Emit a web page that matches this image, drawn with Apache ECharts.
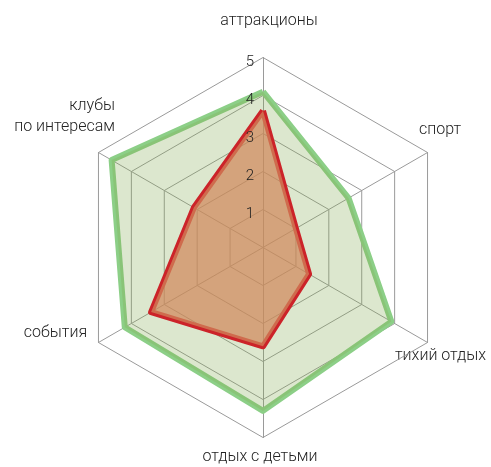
<!doctype html>
<html>
<head>
<meta charset="UTF-8">
<script src="https://cdn.jsdelivr.net/npm/echarts@6/dist/echarts.min.js"></script>
<style>html,body{margin:0;padding:0;background:#fff;}</style>
</head>
<body>
<div id="chart" style="width: 491px; height: 467px;"></div>
<script>
// indicators go counterclockwise from the top
var names = ['аттракционы', 'клубы\nпо интересам', 'события', 'отдых с детьми', 'тихий отдых', 'спорт'];
var greenValues = [4.1, 4.6, 4.2, 4.3, 3.9, 2.6];
var redValues = [3.6, 2.1, 3.4, 2.6, 1.4, 1.0];
var maxValue = 5;

// where each indicator name sits (the reference places them by hand)
var namePos = [
    { x: 269, y: 21, align: 'center' },
    { x: 115, y: 116.5, align: 'right' },
    { x: 55.5, y: 333, align: 'center' },
    { x: 260, y: 457, align: 'center' },
    { x: 440.5, y: 356, align: 'center' },
    { x: 440, y: 130, align: 'center' }
];

var nameTexts = names.map(function (n, i) {
    return {
        type: 'text',
        x: namePos[i].x,
        y: namePos[i].y,
        style: {
            text: n,
            fill: '#222',
            font: '300 16px Roboto',
            lineHeight: 21,
            align: namePos[i].align,
            verticalAlign: 'middle'
        }
    };
});

var center = [263, 247.5];
var radius = 190;

// second radar only carries the 1..5 labels so they sit above the fills
var labelIndicator = names.map(function (n, i) {
    var ind = { name: n, max: maxValue, min: 0 };
    if (i === 0) {
        ind.axisLabel = { show: true };
    }
    return ind;
});

var chart = echarts.init(document.getElementById('chart'));
chart.setOption({
    animation: false,
    radar: [{
        center: center,
        radius: radius,
        shape: 'polygon',
        splitNumber: 5,
        indicator: names.map(function (n) { return { name: n, max: maxValue, min: 0 }; }),
        axisName: { show: false },
        axisLine: { lineStyle: { color: '#9a9a9a', width: 1 } },
        splitLine: { lineStyle: { color: '#9a9a9a', width: 1 } },
        splitArea: { show: false },
        axisTick: { show: false },
        axisLabel: { show: false }
    }, {
        z: 5,
        center: center,
        radius: radius,
        shape: 'polygon',
        splitNumber: 5,
        indicator: labelIndicator,
        axisName: { show: false },
        axisLine: { show: false },
        splitLine: { show: false },
        splitArea: { show: false },
        axisTick: { show: false },
        axisLabel: {
            show: false,
            color: '#222',
            fontFamily: 'Roboto',
            fontWeight: 300,
            fontSize: 15,
            showMinLabel: false,
            margin: 9,
            verticalAlign: 'top',
            lineHeight: 10
        }
    }],
    graphic: nameTexts,
    series: [{
        type: 'radar',
        radarIndex: 0,
        symbol: 'none',
        data: [{
            value: greenValues,
            lineStyle: { color: '#8ccf87', width: 6 },
            areaStyle: { color: 'rgba(130,170,80,0.28)', opacity: 1 }
        }, {
            value: redValues,
            lineStyle: { color: '#cc2329', width: 6 },
            areaStyle: { color: 'rgba(208,136,92,0.72)', opacity: 1 }
        }]
    }]
});
</script>
</body>
</html>
